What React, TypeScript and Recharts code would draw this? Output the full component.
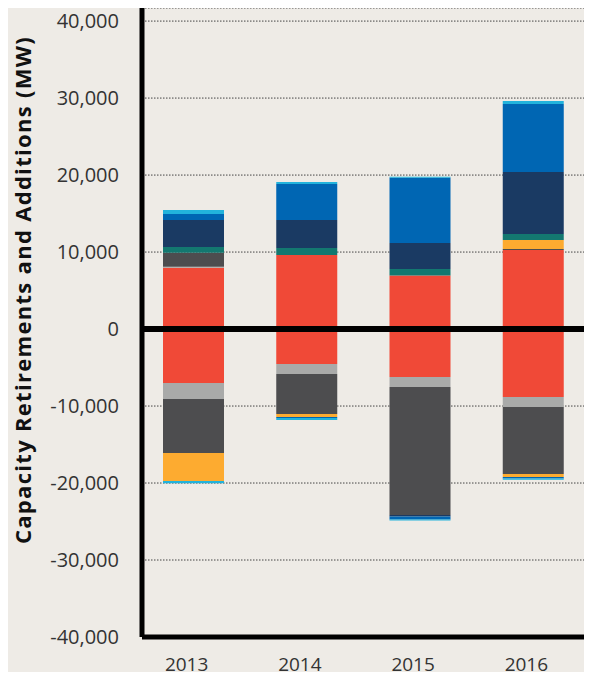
import React from "react";
import { BarChart, Bar, XAxis, YAxis, CartesianGrid, ReferenceLine, Label } from "recharts";

const years = ["2013", "2014", "2015", "2016"];
const yTicks = [-40000, -30000, -20000, -10000, 0, 10000, 20000, 30000, 40000];

// Additions (MW), positive
const gasAdditions = [7960, 9610, 6970, 10260];
const petroleumAdditions = [130, 0, 0, 0];
const coalAdditions = [1810, 0, 0, 130];
const nuclearAdditions = [0, 0, 0, 1170];
const hydroAdditions = [750, 910, 820, 780];
const windAdditions = [3510, 3640, 3380, 8050];
const solarAdditions = [780, 4670, 8480, 8830];
const otherAdditions = [510, 260, 130, 390];

// Retirements (MW), negative
const gasRetirements = [-7010, -4550, -6230, -8830];
const petroleumRetirements = [-2080, -1290, -1300, -1300];
const coalRetirements = [-7010, -5200, -16630, -8700];
const nuclearRetirements = [-3640, -390, 0, -390];
const windRetirements = [0, 0, -200, 0];
const solarRetirements = [0, -130, -390, -200];
const otherRetirements = [-300, -260, -130, -170];

const colors = {
  gas: "#f04937",
  petroleum: "#a9aaa9",
  coal: "#4d4d4f",
  nuclear: "#fdab30",
  hydro: "#137870",
  wind: "#1a3a63",
  solar: "#0066b3",
  other: "#22b3dc",
};

const data = years.map((year, i) => ({
  year,
  gasAdd: gasAdditions[i],
  petroleumAdd: petroleumAdditions[i],
  coalAdd: coalAdditions[i],
  nuclearAdd: nuclearAdditions[i],
  hydroAdd: hydroAdditions[i],
  windAdd: windAdditions[i],
  solarAdd: solarAdditions[i],
  otherAdd: otherAdditions[i],
  gasRet: gasRetirements[i],
  petroleumRet: petroleumRetirements[i],
  coalRet: coalRetirements[i],
  nuclearRet: nuclearRetirements[i],
  windRet: windRetirements[i],
  solarRet: solarRetirements[i],
  otherRet: otherRetirements[i],
}));

const series: [string, string][] = [
  ["gasAdd", colors.gas],
  ["petroleumAdd", colors.petroleum],
  ["coalAdd", colors.coal],
  ["nuclearAdd", colors.nuclear],
  ["hydroAdd", colors.hydro],
  ["windAdd", colors.wind],
  ["solarAdd", colors.solar],
  ["otherAdd", colors.other],
  ["gasRet", colors.gas],
  ["petroleumRet", colors.petroleum],
  ["coalRet", colors.coal],
  ["nuclearRet", colors.nuclear],
  ["windRet", colors.wind],
  ["solarRet", colors.solar],
  ["otherRet", colors.other],
];

const FONT = "'Open Sans', sans-serif";

export default function App() {
  return (
    <div style={{ background: "#eeebe6", width: 592, height: 680, margin: -8 }}>
      <BarChart
        width={592}
        height={680}
        data={data}
        stackOffset="sign"
        margin={{ top: 8, right: 7, bottom: 0, left: 0 }}
        barSize={61}
      >
        <CartesianGrid vertical={false} stroke="#444" strokeDasharray="1.5 1.5" />
        <XAxis
          dataKey="year"
          height={43}
          axisLine={{ stroke: "#000", strokeWidth: 5 }}
          tickLine={false}
          tickSize={0}
          tickMargin={21}
          padding={{ left: -5, right: -5 }}
          tick={{ fill: "#333", fontSize: 19, fontFamily: FONT, dx: -7 }}
        />
        <YAxis
          type="number"
          domain={[-40000, 41700]}
          ticks={yTicks}
          width={142}
          axisLine={{ stroke: "#000", strokeWidth: 5 }}
          tickLine={false}
          tickSize={0}
          tickMargin={23}
          tickFormatter={(v: number) => v.toLocaleString("en-US")}
          tick={{ fill: "#333", fontSize: 20, fontFamily: FONT }}
        >
          <Label
            content={() => (
              <text
                x={22}
                y={290}
                transform="rotate(-90 22 290)"
                textAnchor="middle"
                dominantBaseline="central"
                fontFamily={FONT}
                fontWeight={700}
                fontSize={22}
                letterSpacing={1.3}
                fill="#111"
              >
                Capacity Retirements and Additions (MW)
              </text>
            )}
          />
        </YAxis>
        {series.map(([key, color]) => (
          <Bar key={key} dataKey={key} stackId="a" fill={color} isAnimationActive={false} />
        ))}
        <ReferenceLine y={0} stroke="#000" strokeWidth={6} />
      </BarChart>
    </div>
  );
}
